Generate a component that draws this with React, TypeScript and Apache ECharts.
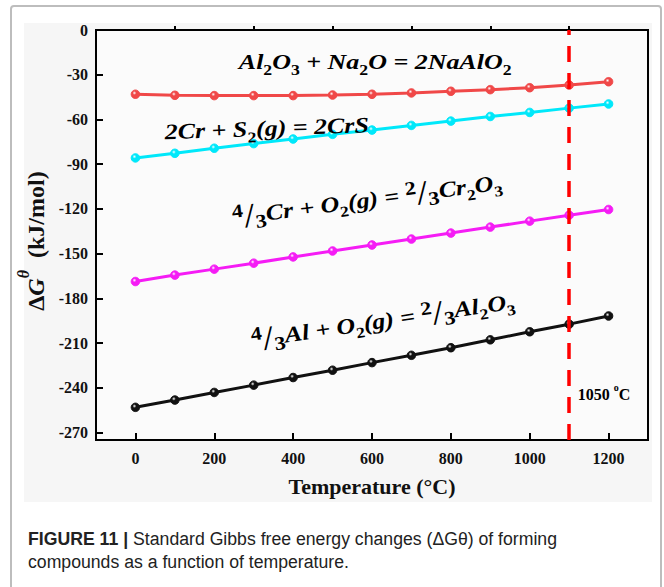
import React, { useEffect, useRef } from "react";
import * as echarts from "echarts";

// ---- data ----
const temperatures = [0, 100, 200, 300, 400, 500, 600, 700, 800, 900, 1000, 1100, 1200];
const naAlO2 = [-43.1, -43.8, -44.0, -44.0, -44.0, -43.6, -43.1, -42.2, -41.1, -40.0, -38.7, -36.9, -34.7];
const crS = [-85.8, -82.7, -79.3, -76.2, -73.1, -70.0, -67.1, -64.0, -61.1, -58.0, -55.3, -52.4, -49.6];
const cr2O3 = [-168.7, -164.4, -160.4, -156.4, -152.2, -148.2, -144.2, -140.2, -136.2, -132.2, -128.2, -124.2, -120.4];
const al2O3 = [-253.1, -248.2, -243.1, -238.2, -233.1, -228.2, -223.1, -218.2, -213.1, -207.8, -202.4, -197.3, -191.8];
const xMajorTicks = [0, 200, 400, 600, 800, 1000, 1200];
const xMinorTicks = [100, 300, 500, 700, 900, 1100];
const yTicks = [-270, -240, -210, -180, -150, -120, -90, -60, -30, 0];
const markTemperature = 1100;
const markLabel = "1050 ºC";

const SERIF = "'Liberation Serif', 'Times New Roman', serif";
const MATH = "'Liberation Serif', 'Times New Roman', serif";
const SANS = "'Liberation Sans', Arial, sans-serif";

const seriesDefs = [
  { name: "Al2O3 + Na2O = 2NaAlO2", values: naAlO2, color: "#f04848" },
  { name: "2Cr + S2(g) = 2CrS", values: crS, color: "#00e8fa" },
  { name: "4/3Cr + O2(g) = 2/3Cr2O3", values: cr2O3, color: "#f51cf5" },
  { name: "4/3Al + O2(g) = 2/3Al2O3", values: al2O3, color: "#111111" },
];

// annotation anchors in data space: [temperature, dG], rotation in degrees
const annotations = [
  {
    text: "{n|Al}{s|2}{n|O}{s|3}{n| + Na}{s|2}{n|O = 2NaAlO}{s|2}",
    at: [608, -21],
    rot: 0,
    color: "#f0141e",
    slash: "#f0141e",
  },
  {
    text: "{n|2Cr + S}{s|2}{n|(g) = 2CrS}",
    at: [333, -66],
    rot: 2,
    color: "#22e8f5",
    slash: "#22e8f5",
  },
  {
    text: "{p|4}{sl|/}{q|3}{n|Cr + O}{s|2}{n|(g) = }{p|2}{sl|/}{q|3}{n|Cr}{s|2}{n|O}{s|3}",
    at: [588, -114],
    rot: 7.5,
    color: "#f000f0",
    slash: "#f000f0",
  },
  {
    text: "{p|4}{sl|/}{q|3}{n|Al + O}{s|2}{n|(g) = }{p|2}{sl|/}{q|3}{n|Al}{s|2}{n|O}{s|3}",
    at: [628, -195],
    rot: 8.5,
    color: "#111111",
    slash: "#8a6060",
  },
];

function mathRich(color: string, slash: string) {
  const base = { fontFamily: MATH, fontStyle: "italic", fontWeight: "bold", color };
  return {
    n: { ...base, fontSize: 22, lineHeight: 32, verticalAlign: "middle" },
    s: { ...base, fontStyle: "normal", fontSize: 15, lineHeight: 13, verticalAlign: "bottom" },
    p: { ...base, fontStyle: "normal", fontSize: 19, lineHeight: 17, verticalAlign: "top" },
    q: { ...base, fontStyle: "normal", fontSize: 19, lineHeight: 15, verticalAlign: "bottom" },
    sl: { ...base, fontStyle: "normal", fontWeight: "normal", fontSize: 34, lineHeight: 32, color: slash, verticalAlign: "middle" },
  };
}

function ball(color: string) {
  return new echarts.graphic.RadialGradient(0.38, 0.35, 0.65, [
    { offset: 0, color: "#ffffff" },
    { offset: 0.35, color },
    { offset: 1, color },
  ]);
}

export default function App() {
  const ref = useRef<HTMLDivElement>(null);

  useEffect(() => {
    if (!ref.current) return;
    const chart = echarts.init(ref.current, null, { renderer: "svg" });

    const series: any[] = seriesDefs.map((d, i) => ({
      name: d.name,
      type: "line",
      xAxisIndex: 0,
      yAxisIndex: 0,
      data: temperatures.map((t, k) => [t, d.values[k]]),
      symbol: "circle",
      symbolSize: 8.5,
      showSymbol: true,
      lineStyle: { color: d.color, width: 3 },
      itemStyle: { color: ball(d.color), borderColor: d.color, borderWidth: 1 },
      z: 3 + i,
    }));
    series[0].markLine = {
      silent: true,
      symbol: "none",
      label: { show: false },
      lineStyle: { color: "#ff0000", width: 3.5, type: [16, 11] },
      data: [{ xAxis: markTemperature }],
      z: 10,
    };

    const axisLabelStyle = {
      fontFamily: SERIF,
      fontWeight: "bold",
      fontSize: 16,
      color: "#111",
      formatter: (v: number) => String(v),
    };

    const nameRich = {
      d: { fontFamily: SERIF, fontWeight: "bold", fontSize: 24, color: "#111", lineHeight: 32, verticalAlign: "bottom" },
      g: { fontFamily: SERIF, fontWeight: "bold", fontStyle: "italic", fontSize: 24, color: "#111", lineHeight: 32, verticalAlign: "bottom" },
      t: { fontFamily: SERIF, fontWeight: "bold", fontStyle: "italic", fontSize: 16, color: "#111", lineHeight: 32, verticalAlign: "top" },
      u: { fontFamily: SERIF, fontWeight: "bold", fontSize: 24, color: "#111", lineHeight: 32, verticalAlign: "bottom" },
    };

    chart.setOption({
      animation: false,
      backgroundColor: "#ffffff",
      grid: {
        left: 96,
        top: 30,
        width: 552,
        height: 410,
        show: true,
        backgroundColor: "#fbfbfb",
        borderColor: "#000",
        borderWidth: 2,
      },
      xAxis: [
        {
          type: "value",
          min: -100,
          max: 1300,
          axisLine: { show: true, onZero: false, lineStyle: { color: "#000", width: 2 } },
          axisTick: { show: true, inside: true, length: 7, customValues: xMajorTicks, lineStyle: { color: "#000", width: 2 } },
          axisLabel: { show: true, customValues: xMajorTicks, margin: 10, ...axisLabelStyle },
          splitLine: { show: false },
          name: "Temperature (°C)",
          nameLocation: "middle",
          nameGap: 35,
          nameTextStyle: { fontFamily: SERIF, fontWeight: "bold", fontSize: 22, color: "#111" },
        },
        {
          type: "value",
          min: -100,
          max: 1300,
          position: "bottom",
          axisLine: { show: false },
          axisTick: { show: true, inside: true, length: 4, customValues: xMinorTicks, lineStyle: { color: "#000", width: 2 } },
          axisLabel: { show: false },
          splitLine: { show: false },
        },
      ],
      yAxis: {
        type: "value",
        min: -275,
        max: 0,
        axisLine: { show: true, onZero: false, lineStyle: { color: "#000", width: 2 } },
        axisTick: { show: true, inside: true, length: 7, customValues: yTicks, lineStyle: { color: "#000", width: 2 } },
        axisLabel: { show: true, customValues: yTicks, margin: 8, ...axisLabelStyle },
        splitLine: { show: false },
        name: "{d|Δ}{g|G}{t|θ}{u|  (kJ/mol)}{u|  }",
        nameLocation: "middle",
        nameRotate: 90,
        nameGap: 44,
        nameTextStyle: { rich: nameRich },
      },
      series,
    });

    const captionStyle = {
      fontFamily: SANS,
      fontSize: 19,
      fill: "#222",
      verticalAlign: "middle",
    };

    const graphics: any[] = [
      {
        type: "rect",
        z: -100,
        silent: true,
        shape: { x: 11, y: 6, width: 650, height: 640, r: 3 },
        style: { fill: "#ffffff", stroke: "#bdbdbd", lineWidth: 2 },
      },
      {
        type: "rect",
        z: -99,
        silent: true,
        shape: { x: 24, y: 23, width: 628, height: 479 },
        style: { fill: "#f6f6f6" },
      },
      {
        type: "text",
        x: 28,
        y: 538,
        scaleX: 0.93,
        style: {
          ...captionStyle,
          text: "{b|FIGURE 11 |} Standard Gibbs free energy changes (ΔGθ) of forming",
          rich: {
            b: { fontFamily: SANS, fontWeight: "bold", fontSize: 19, color: "#111" },
          },
        },
      },
      {
        type: "text",
        x: 28,
        y: 561,
        scaleX: 0.93,
        style: {
          ...captionStyle,
          text: "compounds as a function of temperature.",
        },
      },
    ];

    annotations.forEach((a) => {
      const p = chart.convertToPixel({ gridIndex: 0 }, a.at) as number[];
      graphics.push({
        type: "text",
        x: p[0],
        y: p[1],
        scaleX: 1.18,
        rotation: (a.rot * Math.PI) / 180,
        z: 20,
        silent: true,
        style: {
          text: a.text,
          align: "center",
          verticalAlign: "middle",
          rich: mathRich(a.color, a.slash),
        },
      });
    });

    const lp = chart.convertToPixel({ gridIndex: 0 }, [markTemperature + 22, -243]) as number[];
    const parts = markLabel.split("º");
    graphics.push({
      type: "text",
      x: lp[0],
      y: lp[1],
      z: 20,
      silent: true,
      style: {
        text: `{a|${parts[0]}}{o|o}{a|${parts[1]}}`,
        align: "left",
        verticalAlign: "middle",
        rich: {
          a: { fontFamily: SERIF, fontWeight: "bold", fontSize: 16, color: "#ff1010", lineHeight: 20, verticalAlign: "bottom" },
          o: { fontFamily: SERIF, fontWeight: "bold", fontSize: 10, color: "#ff1010", lineHeight: 14, verticalAlign: "top" },
        },
      },
    });

    chart.setOption({ graphic: graphics });

    return () => {
      chart.dispose();
    };
  }, []);

  return (
    <div
      ref={ref}
      style={{ position: "fixed", left: 0, top: 0, width: 664, height: 587 }}
    />
  );
}
